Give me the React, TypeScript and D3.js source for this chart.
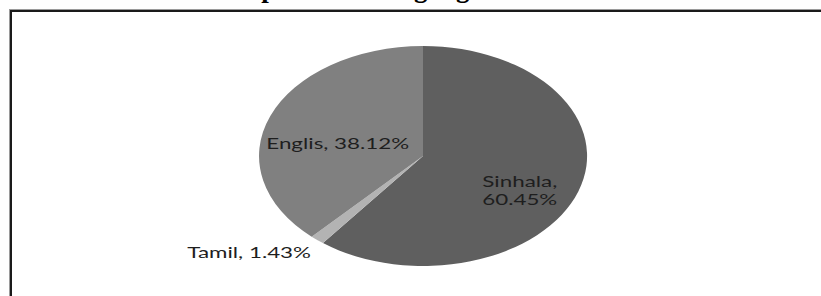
import React from 'react';
import * as d3 from 'd3';

const languages = ['Sinhala', 'Tamil', 'Englis'];
const shares = [60.45, 1.43, 38.12];
const sliceColors = ['#5f5f5f', '#b3b3b3', '#808080'];
const titleText = 'Most preferred language';

const width = 821;
const height = 296;

// label centres in ellipse-normalised units (x / rx, y / ry)
const labelSpots: Record<string, [number, number]> = {
  Sinhala: [0.59, 0.31],
  Tamil: [-1.06, 0.875],
  Englis: [-0.52, -0.115],
};

type Slice = { name: string; value: number; color: string };

const App: React.FC = () => {
  const cx = 423;
  const cy = 156;
  const rx = 164;
  const ry = 110;
  const stretch = rx / ry; // the source picture is stretched sideways

  const data: Slice[] = languages.map((name, i) => ({ name, value: shares[i], color: sliceColors[i] }));
  const pie = d3.pie<Slice>()
    .value(d => d.value)
    .sort(null);
  const arcs = pie(data);
  const arc = d3.arc<d3.PieArcDatum<Slice>>()
    .innerRadius(0)
    .outerRadius(1);

  const x = d3.scaleLinear().domain([-1, 1]).range([cx - rx, cx + rx]);
  const y = d3.scaleLinear().domain([-1, 1]).range([cy - ry, cy + ry]);

  const labelStyle = { fontFamily: 'Lato, sans-serif', fontSize: 15, fill: '#1e1e1e' };

  return (
    <div style={{ position: 'absolute', left: 0, top: 0 }}>
      <svg width={width} height={height} style={{ display: 'block', background: '#fff' }}>
        {/* title sits above the crop, only descenders show */}
        <text x={196} y={-3} fontFamily="'Liberation Serif', serif" fontWeight="bold" fontSize={27} fill="#000">
          {titleText}
        </text>

        {/* frame */}
        <line x1={9} y1={9.5} x2={width} y2={9.5} stroke="#9a9a9a" strokeWidth={1} />
        <line x1={9.5} y1={9} x2={9.5} y2={height} stroke="#9a9a9a" strokeWidth={1} />
        <line x1={10} y1={11} x2={width} y2={11} stroke="#1a1a1a" strokeWidth={2} />
        <line x1={11} y1={10} x2={11} y2={height} stroke="#1a1a1a" strokeWidth={2} />

        <g transform={`translate(${cx},${cy}) scale(${rx},${ry})`}>
          {arcs.map(a => (
            <path key={a.data.name} d={arc(a) || ''} fill={a.data.color} />
          ))}
        </g>

        {arcs.map(a => {
          const [nx, ny] = labelSpots[a.data.name];
          const pct = `${a.data.value.toFixed(2)}%`;
          const lx = x(nx);
          const ly = y(ny);
          if (a.data.name === 'Sinhala') {
            return (
              <text key={a.data.name} transform={`translate(${lx},${ly}) scale(${stretch},1)`} textAnchor="middle" style={labelStyle}>
                <tspan x={0} y={-3.5}>{`${a.data.name},`}</tspan>
                <tspan x={0} y={15}>{pct}</tspan>
              </text>
            );
          }
          return (
            <text key={a.data.name} transform={`translate(${lx},${ly + 5.5}) scale(${stretch},1)`} textAnchor="middle" style={labelStyle}>
              {`${a.data.name}, ${pct}`}
            </text>
          );
        })}
      </svg>
    </div>
  );
};

export default App;
